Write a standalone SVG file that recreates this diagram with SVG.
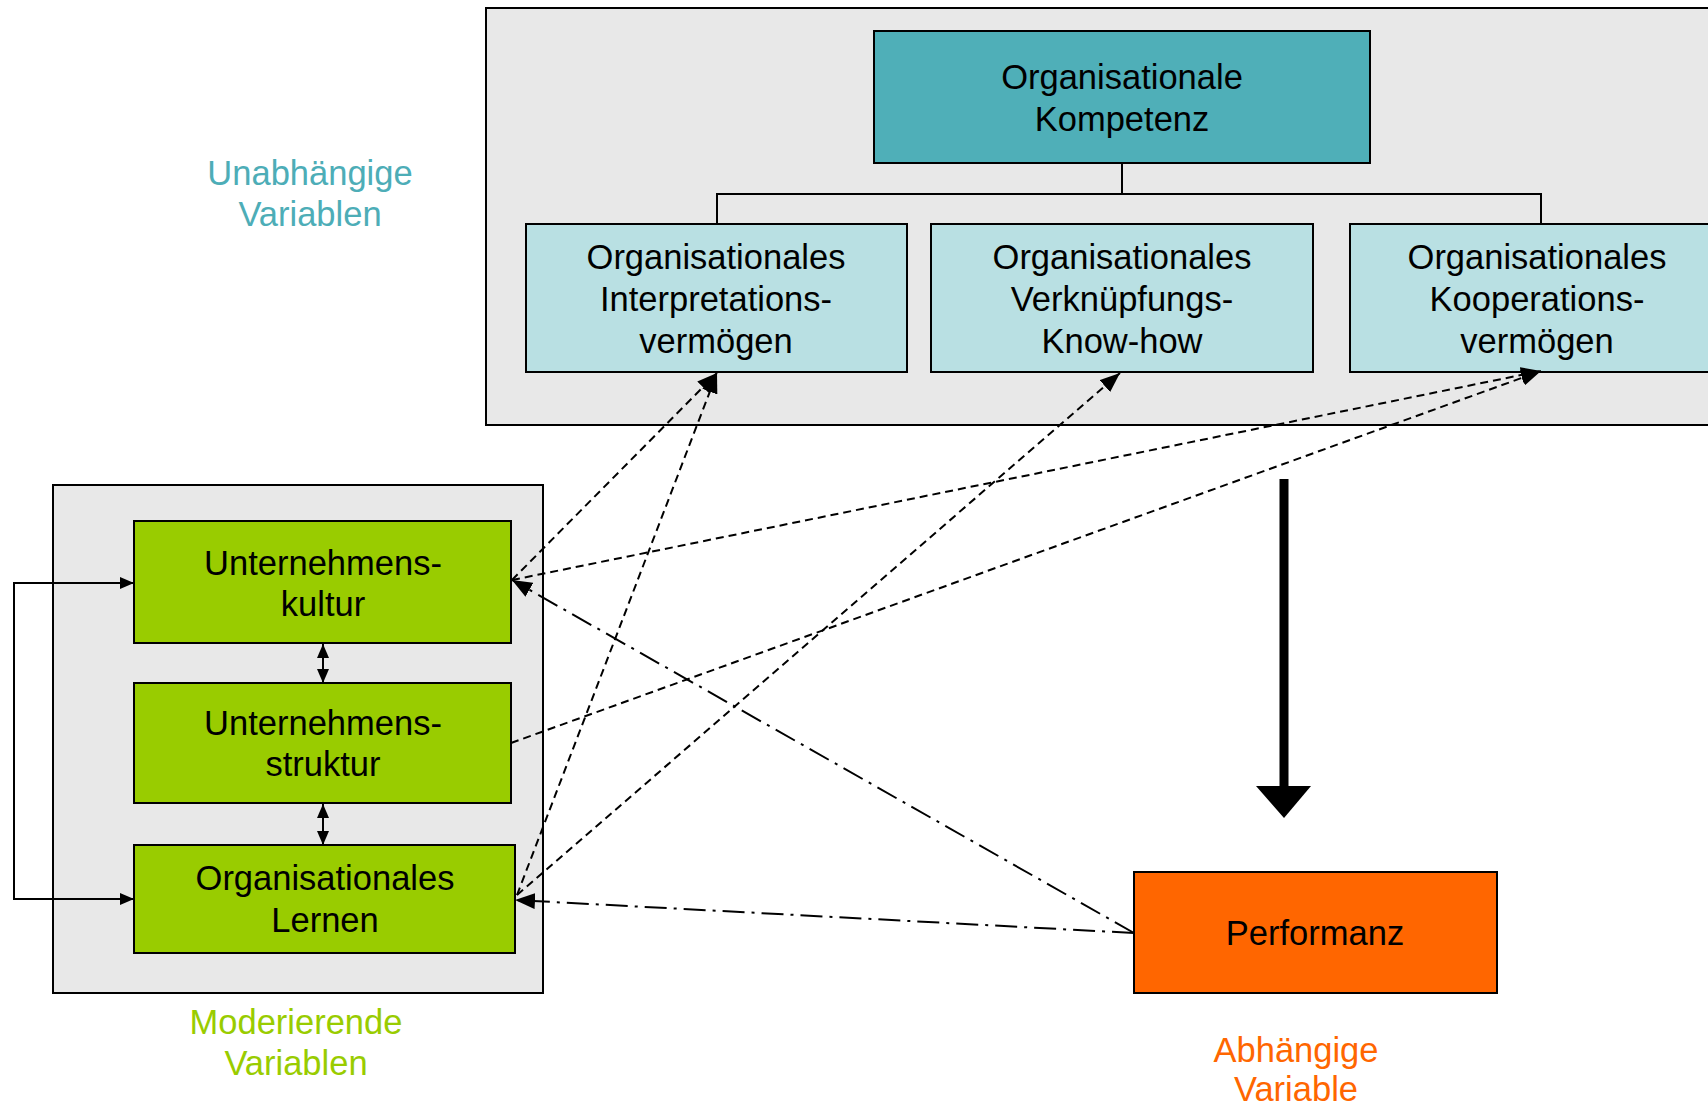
<svg xmlns="http://www.w3.org/2000/svg" width="1708" height="1106" viewBox="0 0 1708 1106">
<style>
text{font-family:"Liberation Sans",Arial,sans-serif;font-size:34.5px;text-anchor:middle;fill:#000}
.grp{fill:#E8E8E8;stroke:#000;stroke-width:2}
.teal{fill:#4FAFB8;stroke:#000;stroke-width:2}
.lb{fill:#B9E0E3;stroke:#000;stroke-width:2}
.gr{fill:#99CC00;stroke:#000;stroke-width:2}
.or{fill:#FF6600;stroke:#000;stroke-width:2}
.tree{fill:none;stroke:#000;stroke-width:2}
.dash{fill:none;stroke:#000;stroke-width:2;stroke-dasharray:8 5;marker-end:url(#big)}
.dd{fill:none;stroke:#000;stroke-width:2;stroke-dasharray:22 7 3 7;marker-end:url(#big)}
.solid{fill:none;stroke:#000;stroke-width:2;marker-start:url(#small);marker-end:url(#small)}
.lt{fill:#4DADB7}
.lg{fill:#99CC00}
.lo{fill:#FF6600}
</style>
<defs>
<marker id="big" viewBox="0 0 20 16" refX="20" refY="8" markerWidth="20" markerHeight="16" markerUnits="userSpaceOnUse" orient="auto"><path d="M0,0 L20,8 L0,16 z" fill="#000"/></marker>
<marker id="small" viewBox="0 0 14 12" refX="14" refY="6" markerWidth="14" markerHeight="12" markerUnits="userSpaceOnUse" orient="auto-start-reverse"><path d="M0,0 L14,6 L0,12 z" fill="#000"/></marker>
</defs>
<rect width="1708" height="1106" fill="#fff"/>

<g id="container-top"><rect class="grp" x="486" y="8" width="1240" height="417"/></g>
<g id="container-left"><rect class="grp" x="53" y="485" width="490" height="508"/></g>

<g id="tree-lines">
<path class="tree" d="M1122,163 V194 M717,224 V194 H1541 V224"/>
</g>

<g id="kompetenz"><rect class="teal" x="874" y="31" width="496" height="132"/>
<text x="1122" y="89">Organisationale</text><text x="1122" y="131">Kompetenz</text></g>

<g id="interpretation"><rect class="lb" x="526" y="224" width="381" height="148"/>
<text x="716" y="269">Organisationales</text><text x="716" y="311">Interpretations-</text><text x="716" y="353">vermögen</text></g>

<g id="verknuepfung"><rect class="lb" x="931" y="224" width="382" height="148"/>
<text x="1122" y="269">Organisationales</text><text x="1122" y="311">Verknüpfungs-</text><text x="1122" y="353">Know-how</text></g>

<g id="kooperation"><rect class="lb" x="1350" y="224" width="382" height="148"/>
<text x="1537" y="269">Organisationales</text><text x="1537" y="311">Kooperations-</text><text x="1537" y="353">vermögen</text></g>

<g id="kultur"><rect class="gr" x="134" y="521" width="377" height="122"/>
<text x="323" y="575">Unternehmens-</text><text x="323" y="616">kultur</text></g>

<g id="struktur"><rect class="gr" x="134" y="683" width="377" height="120"/>
<text x="323" y="735">Unternehmens-</text><text x="323" y="776">struktur</text></g>

<g id="lernen"><rect class="gr" x="134" y="845" width="381" height="108"/>
<text x="325" y="890">Organisationales</text><text x="325" y="932">Lernen</text></g>

<g id="performanz"><rect class="or" x="1134" y="872" width="363" height="121"/>
<text x="1315" y="945">Performanz</text></g>

<g id="labels">
<text class="lt" x="310" y="185">Unabhängige</text><text class="lt" x="310" y="226">Variablen</text>
<text class="lg" x="296" y="1034">Moderierende</text><text class="lg" x="296" y="1075">Variablen</text>
<text class="lo" x="1296" y="1062">Abhängige</text><text class="lo" x="1296" y="1101">Variable</text>
</g>

<g id="connectors">
<path class="dash" d="M512,580 L717,373"/>
<path class="dash" d="M517,895 L717,373"/>
<path class="dash" d="M517,895 L1120,373"/>
<path class="dash" d="M512,580 L1541,371"/>
<path class="dash" d="M511,743 L1541,371"/>
<path class="dd" d="M1134,933 L512,580"/>
<path class="dd" d="M1134,933 L515,900"/>
<path class="solid" d="M134,583 H14 V899 H134"/>
<path class="solid" d="M323,644 V683"/>
<path class="solid" d="M323,804 V845"/>
<line x1="1284" y1="479" x2="1284" y2="790" stroke="#000" stroke-width="9"/>
<path d="M1256,786 L1311,786 L1284,818 z" fill="#000"/>
</g>
</svg>
